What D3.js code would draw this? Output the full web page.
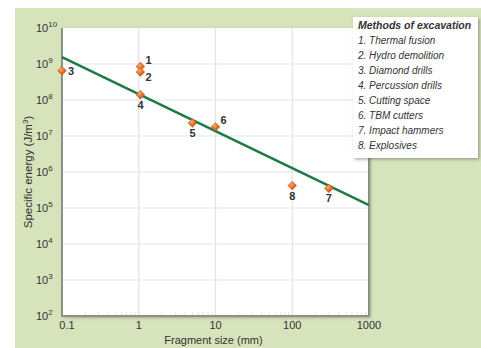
<!DOCTYPE html>
<html>
<head>
<meta charset="utf-8">
<script src="https://cdn.jsdelivr.net/npm/d3@7"></script>
<style>
  body { margin: 0; background: #fff; }
  svg { display: block; font-family: "Liberation Sans", Arial, sans-serif; }
</style>
</head>
<body>
<svg id="chart" width="481" height="348"></svg>
<script>
// fragment size (mm) vs specific energy (J/m3)
var methodIds = ['1', '2', '3', '4', '5', '6', '7', '8'];
var fragmentSize = [1.05, 1.05, 0.1, 1.05, 5, 10, 300, 100];
var specificEnergy = [8.5e8, 6e8, 6.5e8, 1.4e8, 2.3e7, 1.8e7, 3.5e5, 4.2e5];
var labelSide = ['ur', 'lr', 'r', 'b', 'b', 'ur', 'b', 'b'];
var methodNames = ['Thermal fusion', 'Hydro demolition', 'Diamond drills', 'Percussion drills',
  'Cutting space', 'TBM cutters', 'Impact hammers', 'Explosives'];
var trendX = [0.1, 1000];
var trendY = [1.55e9, 1.2e5];
var xTicks = [0.1, 1, 10, 100, 1000];
var yExps = [2, 3, 4, 5, 6, 7, 8, 9, 10];

(function() {
  var svg = d3.select('#chart');
  var pl = 62, pr = 369, pt = 28, pb = 316;

  var x = d3.scaleLog().domain([0.1, 1000]).range([pl, pr]);
  var y = d3.scaleLog().domain([1e2, 1e10]).range([pb, pt]);

  // panel background
  svg.append('rect').attr('x', 15).attr('y', 8).attr('width', 466).attr('height', 340)
    .attr('fill', '#d7e3bb');

  var defs = svg.append('defs');
  var sh = defs.append('filter').attr('id', 'shadow').attr('x', '-10%').attr('y', '-10%')
    .attr('width', '130%').attr('height', '130%');
  sh.append('feDropShadow').attr('dx', 1.5).attr('dy', 1.5).attr('stdDeviation', 1.5)
    .attr('flood-color', '#555').attr('flood-opacity', 0.5);
  var grad = defs.append('radialGradient').attr('id', 'dot').attr('cx', '40%').attr('cy', '35%');
  grad.append('stop').attr('offset', '0%').attr('stop-color', '#f6a86a');
  grad.append('stop').attr('offset', '100%').attr('stop-color', '#d65f1c');

  // plot area
  svg.append('rect').attr('x', pl).attr('y', pt).attr('width', pr - pl).attr('height', pb - pt)
    .attr('fill', '#fff').attr('filter', 'url(#shadow)');

  // grid
  var grid = svg.append('g');
  grid.selectAll('line.h').data(yExps.slice(1, -1)).enter().append('line')
    .attr('x1', pl).attr('x2', pr)
    .attr('y1', function(d) { return y(Math.pow(10, d)); })
    .attr('y2', function(d) { return y(Math.pow(10, d)); })
    .attr('stroke', '#e3e3e3').attr('stroke-width', 1.2);
  grid.selectAll('line.v').data(xTicks.slice(1, -1)).enter().append('line')
    .attr('y1', pt).attr('y2', pb)
    .attr('x1', function(d) { return x(d); }).attr('x2', function(d) { return x(d); })
    .attr('stroke', '#e3e3e3').attr('stroke-width', 1.2);

  // faint minor ticks along the bottom
  var minor = [];
  [0.1, 1, 10, 100].forEach(function(b) {
    for (var k = 2; k < 10; k++) minor.push(b * k);
  });
  grid.selectAll('line.m').data(minor).enter().append('line')
    .attr('x1', function(d) { return x(d); }).attr('x2', function(d) { return x(d); })
    .attr('y1', pb - 4).attr('y2', pb)
    .attr('stroke', '#e6e6e6');

  // frame: left, bottom, right
  svg.append('path')
    .attr('d', 'M' + pl + ',' + pt + 'V' + pb + 'H' + pr + 'V' + pt)
    .attr('fill', 'none').attr('stroke', '#8c9188').attr('stroke-width', 2);

  // x axis labels
  svg.append('g').selectAll('text').data(xTicks).enter().append('text')
    .attr('x', function(d) { return x(d) + (d === 0.1 ? 5 : 0); })
    .attr('y', pb + 13)
    .attr('text-anchor', 'middle').attr('font-size', 11).attr('fill', '#333')
    .text(function(d) { return d3.format('~g')(d); });

  // y axis labels with superscript exponents
  var yl = svg.append('g').selectAll('text').data(yExps).enter().append('text')
    .attr('x', 36).attr('y', function(d) { return y(Math.pow(10, d)) + 4; })
    .attr('font-size', 11).attr('fill', '#333');
  yl.append('tspan').text('10');
  yl.append('tspan').attr('dy', -5).attr('font-size', 8).text(function(d) { return d; });

  // axis titles
  svg.append('text').attr('x', (pl + pr) / 2 - 2).attr('y', 344)
    .attr('text-anchor', 'middle').attr('font-size', 11).attr('fill', '#333')
    .text('Fragment size (mm)');
  var yt = svg.append('text').attr('transform', 'translate(32,172) rotate(-90)')
    .attr('text-anchor', 'middle').attr('font-size', 11.5).attr('fill', '#333');
  yt.append('tspan').text('Specific energy (J/m');
  yt.append('tspan').attr('dy', -4).attr('font-size', 8).text('3');
  yt.append('tspan').attr('dy', 4).text(')');

  // trend line
  var trend = trendX.map(function(d, i) { return [d, trendY[i]]; });
  svg.append('path').datum(trend)
    .attr('d', d3.line().x(function(d) { return x(d[0]); }).y(function(d) { return y(d[1]); }))
    .attr('stroke', '#1d7a47').attr('stroke-width', 2.5).attr('fill', 'none');

  // points
  var pts = methodIds.map(function(id, i) {
    return { id: id, x: fragmentSize[i], y: specificEnergy[i], side: labelSide[i] };
  });
  var g = svg.append('g');
  g.selectAll('path').data(pts).enter().append('path')
    .attr('transform', function(d) { return 'translate(' + x(d.x) + ',' + y(d.y) + ')'; })
    .attr('d', d3.symbol().type(d3.symbolDiamond2).size(50))
    .attr('fill', 'url(#dot)').attr('stroke', '#c9581a').attr('stroke-width', 0.5);

  var off = { ur: [5, -3], lr: [5, 9], r: [6, 4], b: [-3, 14] };
  g.selectAll('text').data(pts).enter().append('text')
    .attr('x', function(d) { return x(d.x) + off[d.side][0]; })
    .attr('y', function(d) { return y(d.y) + off[d.side][1]; })
    .attr('font-size', 11).attr('font-weight', 'bold').attr('fill', '#333')
    .text(function(d) { return d.id; });

  // legend
  var lg = svg.append('g');
  lg.append('rect').attr('x', 353).attr('y', 17).attr('width', 125).attr('height', 141)
    .attr('fill', '#fff').attr('filter', 'url(#shadow)');
  lg.append('text').attr('x', 358).attr('y', 29)
    .attr('font-size', 10.5).attr('font-weight', 'bold').attr('font-style', 'italic').attr('fill', '#333')
    .text('Methods of excavation');
  lg.selectAll('text.item').data(methodNames).enter().append('text')
    .attr('x', 358).attr('y', function(d, i) { return 44 + i * 15; })
    .attr('font-size', 10).attr('font-style', 'italic').attr('fill', '#333')
    .text(function(d, i) { return methodIds[i] + '. ' + d; });
})();
</script>
</body>
</html>
